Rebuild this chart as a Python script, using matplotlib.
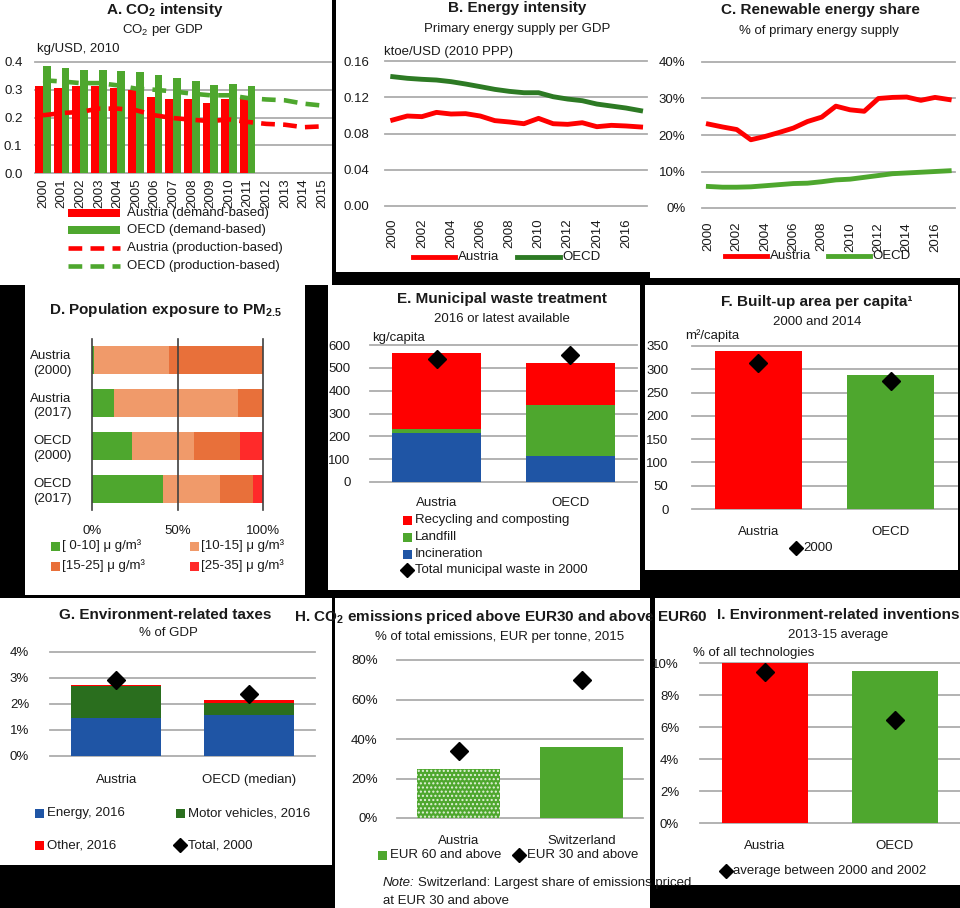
import matplotlib
matplotlib.use('Agg')
import matplotlib.pyplot as plt
from matplotlib import font_manager as fm
import matplotlib.patches as mpatches
import numpy as np

# ---------------- DATA ----------------
years_a = list(range(2000, 2016))
aut_demand = [0.313, 0.307, 0.313, 0.313, 0.306, 0.300, 0.274, 0.268, 0.267, 0.252, 0.268, 0.270]
oecd_demand = [0.384, 0.377, 0.370, 0.372, 0.368, 0.363, 0.352, 0.342, 0.333, 0.316, 0.322, 0.312]
aut_prod = [0.208, 0.216, 0.220, 0.232, 0.232, 0.226, 0.208, 0.198, 0.192, 0.187, 0.193, 0.184,
            0.177, 0.174, 0.165, 0.168]
oecd_prod = [0.334, 0.330, 0.324, 0.324, 0.316, 0.304, 0.300, 0.294, 0.286, 0.280, 0.280, 0.270,
             0.265, 0.262, 0.250, 0.243]

years_bc = list(range(2000, 2018))
aut_energy = [0.0949, 0.0993, 0.0986, 0.1033, 0.1015, 0.1019, 0.0993, 0.0942, 0.0927, 0.0908,
              0.0967, 0.0908, 0.0901, 0.0919, 0.0875, 0.0890, 0.0883, 0.0872]
oecd_energy = [0.1427, 0.1409, 0.1398, 0.1390, 0.1372, 0.1346, 0.1317, 0.1287, 0.1265, 0.1250,
               0.1250, 0.1206, 0.1180, 0.1162, 0.1125, 0.1103, 0.1081, 0.1052]
aut_renew = [23.0, 22.2, 21.5, 18.7, 19.6, 20.7, 21.9, 23.7, 24.9, 27.9, 26.9, 26.5, 30.0, 30.3,
             30.4, 29.5, 30.3, 29.7]
oecd_renew = [5.9, 5.7, 5.7, 5.8, 6.1, 6.4, 6.7, 6.8, 7.2, 7.7, 7.9, 8.4, 8.9, 9.4, 9.6, 9.8,
              10.0, 10.2]

pm_cats = ['Austria\n(2000)', 'Austria\n(2017)', 'OECD\n(2000)', 'OECD\n(2017)']
pm_0_10 = [1.0, 13.0, 23.3, 41.4]
pm_10_15 = [43.9, 72.2, 36.5, 33.4]
pm_15_25 = [55.1, 14.8, 26.6, 19.4]
pm_25_35 = [0.0, 0.0, 13.6, 5.8]
pm_labels = ['[ 0-10] \u03bc g/m\u00b3', '[10-15] \u03bc g/m\u00b3', '[15-25] \u03bc g/m\u00b3', '[25-35] \u03bc g/m\u00b3']

waste_cats = ['Austria', 'OECD']
waste_incin = [215, 114]
waste_landfill = [16, 223]
waste_recyc = [336, 186]
waste_2000 = [537, 555]

built_cats = ['Austria', 'OECD']
built_2014 = [339, 288]
built_2000 = [314, 275]

tax_cats = ['Austria', 'OECD (median)']
tax_energy = [1.47, 1.59]
tax_motor = [1.21, 0.45]
tax_other = [0.04, 0.10]
tax_2000 = [2.91, 2.40]

co2_cats = ['Austria', 'Switzerland']
co2_eur60 = [24.7, 35.9]
co2_eur30 = [33.7, 69.9]

inv_cats = ['Austria', 'OECD']
inv_1315 = [10.0, 9.48]
inv_0002 = [9.42, 6.46]

# ---------------- STYLE ----------------
def has_font(name):
    try:
        fm.findfont(fm.FontProperties(family=name), fallback_to_default=False)
        return True
    except Exception:
        return False

FONT = 'Liberation Sans Narrow' if has_font('Liberation Sans Narrow') else 'Liberation Sans'
NARROW = FONT == 'Liberation Sans Narrow'
plt.rcParams['font.family'] = [FONT, 'DejaVu Sans']
plt.rcParams['mathtext.fontset'] = 'custom'
plt.rcParams['mathtext.rm'] = FONT
plt.rcParams['mathtext.bf'] = FONT + ':bold'
plt.rcParams['mathtext.it'] = FONT + ':italic'
plt.rcParams['hatch.linewidth'] = 1.0

RED = '#ff0000'
GREEN = '#4ea72e'
DGREEN = '#2d7a24'
BLUE = '#1f55a5'
MGREEN = '#2a6e1e'
GRID = '#adadad'
TXT = '#1a1a1a'
FS = 10.5 if NARROW else 9.5
TFS = 12.5 if NARROW else 11

W, H = 960, 908
fig = plt.figure(figsize=(W / 100, H / 100), dpi=100)
fig.patch.set_facecolor('black')

bg = fig.add_axes([0, 0, 1, 1], zorder=-5)
bg.set_xlim(0, W); bg.set_ylim(H, 0); bg.axis('off')
panels = [(0, 0, 332, 285), (336, 0, 650, 272), (650, 0, 960, 278),
          (25, 283, 305, 595), (328, 285, 640, 590), (645, 285, 958, 570),
          (0, 598, 332, 865), (335, 598, 650, 908), (655, 598, 960, 885)]
for x0, y0, x1, y1 in panels:
    bg.add_patch(mpatches.Rectangle((x0, y0), x1 - x0, y1 - y0, color='white', lw=0))


def ax_at(x0, y0, x1, y1):
    a = fig.add_axes([x0 / W, 1 - y1 / H, (x1 - x0) / W, (y1 - y0) / H], zorder=1)
    a.set_facecolor('none')
    for s in a.spines.values():
        s.set_visible(False)
    return a


def grid(a, vals):
    for v in vals:
        a.axhline(v, color=GRID, lw=1.3, zorder=0.5, clip_on=False)


ov = fig.add_axes([0, 0, 1, 1], zorder=10)
ov.set_xlim(0, W); ov.set_ylim(H, 0); ov.axis('off'); ov.patch.set_alpha(0)


def T(x, y, s, ha='left', bold=False, size=FS, **kw):
    return ov.text(x, y, s, ha=ha, va='center', fontsize=size, color=TXT,
                   fontweight='bold' if bold else 'normal', **kw)


def sq(x, y, c, s=9):
    ov.add_patch(mpatches.Rectangle((x - s / 2, y - s / 2), s, s, color=c, lw=0))


def dia(x, y, ms=7):
    ov.plot([x], [y], marker='D', color='black', ms=ms, ls='none')


def cat_axes(a, ylim, yticks, ylabels, ypad, cats, xpad=10):
    a.set_xlim(-0.5, 1.5)
    a.set_ylim(*ylim)
    a.set_yticks(yticks)
    a.set_yticklabels(ylabels)
    a.set_xticks([0, 1])
    a.set_xticklabels(cats)
    a.tick_params(axis='y', length=0, labelsize=FS, pad=ypad, labelcolor=TXT)
    a.tick_params(axis='x', length=0, labelsize=FS, pad=xpad, labelcolor=TXT)
    grid(a, yticks)

# ---------------- A ----------------
a = ax_at(35, 62, 331, 173)
xa = np.arange(len(years_a))
xb = np.arange(len(aut_demand))
a.bar(xb - 0.21, aut_demand, 0.42, color=RED, zorder=2)
a.bar(xb + 0.21, oecd_demand, 0.42, color=GREEN, zorder=2)
dash = (0, (3, 1.8))
a.plot(xa, aut_prod, color=RED, lw=3.3, ls=dash, zorder=3)
a.plot(xa, oecd_prod, color=GREEN, lw=3.3, ls=dash, zorder=3)
a.set_xlim(-0.43, 15.48)
a.set_ylim(0, 0.4)
a.set_yticks([0, 0.1, 0.2, 0.3, 0.4])
a.set_yticklabels(['0.0', '0.1', '0.2', '0.3', '0.4'])
a.set_xticks(xa)
a.set_xticklabels([str(y) for y in years_a], rotation=90)
a.tick_params(axis='y', length=0, labelsize=FS, pad=9, labelcolor=TXT)
a.tick_params(axis='x', length=0, labelsize=FS, pad=4, labelcolor=TXT)
grid(a, [0, 0.1, 0.2, 0.3, 0.4])
T(165, 10, 'A. CO$_\\mathbf{2}$ intensity', ha='center', bold=True, size=TFS)
T(163, 30, 'CO$_2$ per GDP', ha='center')
T(37, 49, 'kg/USD, 2010')
ov.add_patch(mpatches.Rectangle((68, 209), 52, 8, color=RED, lw=0))
ov.add_patch(mpatches.Rectangle((68, 226), 52, 8, color=GREEN, lw=0))
ov.plot([68, 120], [248, 248], color=RED, lw=3.3, ls=dash)
ov.plot([68, 120], [266, 266], color=GREEN, lw=3.3, ls=dash)
T(127, 213, 'Austria (demand-based)')
T(127, 230, 'OECD (demand-based)')
T(127, 248, 'Austria (production-based)')
T(127, 266, 'OECD (production-based)')

# ---------------- B ----------------
b = ax_at(385, 61, 647, 206)
b.plot(years_bc, aut_energy, color=RED, lw=3.5, zorder=3)
b.plot(years_bc, oecd_energy, color=DGREEN, lw=3.5, zorder=3)
b.set_xlim(1999.47, 2017.44)
b.set_ylim(0, 0.16)
bt = [0, 0.04, 0.08, 0.12, 0.16]
b.set_yticks(bt)
b.set_yticklabels(['0.00', '0.04', '0.08', '0.12', '0.16'])
b.set_xticks(list(range(2000, 2018, 2)))
b.set_xticklabels([str(y) for y in range(2000, 2018, 2)], rotation=90)
b.tick_params(axis='y', length=0, labelsize=FS, pad=11, labelcolor=TXT)
b.tick_params(axis='x', length=0, labelsize=FS, pad=9, labelcolor=TXT)
grid(b, bt)
T(517, 8, 'B. Energy intensity', ha='center', bold=True, size=TFS)
T(517, 29, 'Primary energy supply per GDP', ha='center')
T(384, 52, 'ktoe/USD (2010 PPP)')
ov.plot([413, 455], [257, 257], color=RED, lw=3.5)
T(458, 257, 'Austria')
ov.plot([517, 560], [257, 257], color=DGREEN, lw=3.5)
T(562, 257, 'OECD')

# ---------------- C ----------------
c = ax_at(702, 62, 955, 208)
c.plot(years_bc, aut_renew, color=RED, lw=3.5, zorder=3)
c.plot(years_bc, oecd_renew, color=GREEN, lw=3.5, zorder=3)
c.set_xlim(1999.55, 2017.41)
c.set_ylim(0, 40)
ct = [0, 10, 20, 30, 40]
c.set_yticks(ct)
c.set_yticklabels([f'{v}%' for v in ct])
c.set_xticks(list(range(2000, 2018, 2)))
c.set_xticklabels([str(y) for y in range(2000, 2018, 2)], rotation=90)
c.tick_params(axis='y', length=0, labelsize=FS, pad=12, labelcolor=TXT)
c.tick_params(axis='x', length=0, labelsize=FS, pad=10, labelcolor=TXT)
grid(c, ct)
T(820, 10, 'C. Renewable energy share', ha='center', bold=True, size=TFS)
T(819, 31, '% of primary energy supply', ha='center')
ov.plot([725, 767], [256, 256], color=RED, lw=3.5)
T(770, 256, 'Austria')
ov.plot([828, 870], [256, 256], color=GREEN, lw=3.5)
T(872, 256, 'OECD')

# ---------------- D ----------------
d = ax_at(92, 339, 263, 510)
yd = np.arange(len(pm_cats))
pm_cols = [GREEN, '#f09a6a', '#e8703a', '#ff2a2a']
left = np.zeros(len(pm_cats))
for vals, col in zip([pm_0_10, pm_10_15, pm_15_25, pm_25_35], pm_cols):
    d.barh(yd, vals, 0.66, left=left, color=col, zorder=2)
    left += np.array(vals)
d.set_xlim(0, 100)
d.set_ylim(3.5, -0.5)
for v in [0, 50, 100]:
    d.axvline(v, color='#404040', lw=1.2, zorder=3, clip_on=False)
d.set_xticks([0, 50, 100])
d.set_xticklabels(['0%', '50%', '100%'])
d.set_yticks(yd)
d.set_yticklabels(pm_cats, linespacing=1.3)
d.tick_params(axis='y', length=0, labelsize=FS, pad=15, labelcolor=TXT)
d.tick_params(axis='x', length=0, labelsize=FS, pad=11, labelcolor=TXT)
T(165, 310, 'D. Population exposure to PM$_\\mathbf{2.5}$', ha='center', bold=True, size=TFS)
sq(55, 546, pm_cols[0]); T(62, 546, pm_labels[0])
sq(194, 546, pm_cols[1]); T(201, 546, pm_labels[1])
sq(55, 566, pm_cols[2]); T(62, 566, pm_labels[2])
sq(194, 566, pm_cols[3]); T(201, 566, pm_labels[3])

# ---------------- E ----------------
e = ax_at(370, 345, 637, 482)
xe = np.arange(2)
e.bar(xe, waste_incin, 0.67, color=BLUE, zorder=2)
e.bar(xe, waste_landfill, 0.67, bottom=waste_incin, color=GREEN, zorder=2)
e.bar(xe, waste_recyc, 0.67, bottom=np.array(waste_incin) + np.array(waste_landfill),
      color=RED, zorder=2)
e.plot(xe, waste_2000, 'D', color='black', ms=9, zorder=4)
et = [0, 100, 200, 300, 400, 500, 600]
cat_axes(e, (0, 600), et, [str(v) for v in et], 14, waste_cats, xpad=11)
T(502, 299, 'E. Municipal waste treatment', ha='center', bold=True, size=TFS)
T(502, 319, '2016 or latest available', ha='center')
T(372, 338, 'kg/capita')
sq(407, 520, RED); T(415, 520, 'Recycling and composting')
sq(407, 537, GREEN); T(415, 537, 'Landfill')
sq(407, 554, BLUE); T(415, 554, 'Incineration')
dia(407, 570); T(415, 570, 'Total municipal waste in 2000')

# ---------------- F ----------------
f = ax_at(692, 346, 957, 509)
xf = np.arange(2)
f.bar(xf, built_2014, 0.66, color=[RED, GREEN], zorder=2)
f.plot(xf, built_2000, 'D', color='black', ms=9, zorder=4)
ft = list(range(0, 351, 50))
cat_axes(f, (0, 350), ft, [str(v) for v in ft], 17, built_cats, xpad=12)
T(817, 302, 'F. Built-up area per capita\u00b9', ha='center', bold=True, size=TFS)
T(817, 322, '2000 and 2014', ha='center')
T(685, 336, 'm\u00b2/capita')
dia(796, 548); T(803, 548, '2000')

# ---------------- G ----------------
g = ax_at(50, 652, 315, 756)
xg = np.arange(2)
g.bar(xg, tax_energy, 0.68, color=BLUE, zorder=2)
g.bar(xg, tax_motor, 0.68, bottom=tax_energy, color=MGREEN, zorder=2)
g.bar(xg, tax_other, 0.68, bottom=np.array(tax_energy) + np.array(tax_motor), color=RED, zorder=2)
g.plot(xg, tax_2000, 'D', color='black', ms=9, zorder=4)
gt = [0, 1, 2, 3, 4]
cat_axes(g, (0, 4), gt, [f'{v}%' for v in gt], 15, tax_cats, xpad=13)
T(165, 615, 'G. Environment-related taxes', ha='center', bold=True, size=TFS)
T(168, 633, '% of GDP', ha='center')
sq(39, 813, BLUE); T(47, 813, 'Energy, 2016')
sq(180, 813, MGREEN); T(188, 813, 'Motor vehicles, 2016')
sq(39, 845, RED); T(47, 845, 'Other, 2016')
dia(180, 845); T(188, 845, 'Total, 2000')

# ---------------- H ----------------
h = ax_at(397, 660, 643, 818)
xh = np.arange(2)
h.bar([0], [co2_eur60[0]], 0.675, color=GREEN, edgecolor='#e4f2dc', hatch='....', lw=0, zorder=2)
h.bar([1], [co2_eur60[1]], 0.675, color=GREEN, lw=0, zorder=2)
h.plot(xh, co2_eur30, 'D', color='black', ms=9, zorder=4)
ht = [0, 20, 40, 60, 80]
cat_axes(h, (0, 80), ht, [f'{v}%' for v in ht], 14, co2_cats, xpad=12)
T(501, 617, 'H. CO$_\\mathbf{2}$ emissions priced above EUR30 and above EUR60', ha='center',
  bold=True, size=TFS)
T(500, 637, '% of total emissions, EUR per tonne, 2015', ha='center')
sq(382, 855, GREEN); T(390, 855, 'EUR 60 and above')
dia(519, 855); T(527, 855, 'EUR 30 and above')
tn = T(383, 883, 'Note:', style='italic')
fig.canvas.draw()
bb = tn.get_window_extent(fig.canvas.get_renderer())
T(bb.x1 + 3, 883, 'Switzerland: Largest share of emissions priced')
T(383, 901, 'at EUR 30 and above')

# ---------------- I ----------------
ia = ax_at(700, 663, 960, 823)
xi = np.arange(2)
ia.bar(xi, inv_1315, 0.66, color=[RED, GREEN], zorder=2)
ia.plot(xi, inv_0002, 'D', color='black', ms=9, zorder=4)
it = [0, 2, 4, 6, 8, 10]
cat_axes(ia, (0, 10), it, [f'{v}%' for v in it], 15, inv_cats, xpad=12)
T(838, 615, 'I. Environment-related inventions', ha='center', bold=True, size=TFS)
T(838, 635, '2013-15 average', ha='center')
T(693, 653, '% of all technologies')
dia(726, 871); T(733, 871, 'average between 2000 and 2002')

fig.savefig('out.png', dpi=100, facecolor=fig.get_facecolor())
